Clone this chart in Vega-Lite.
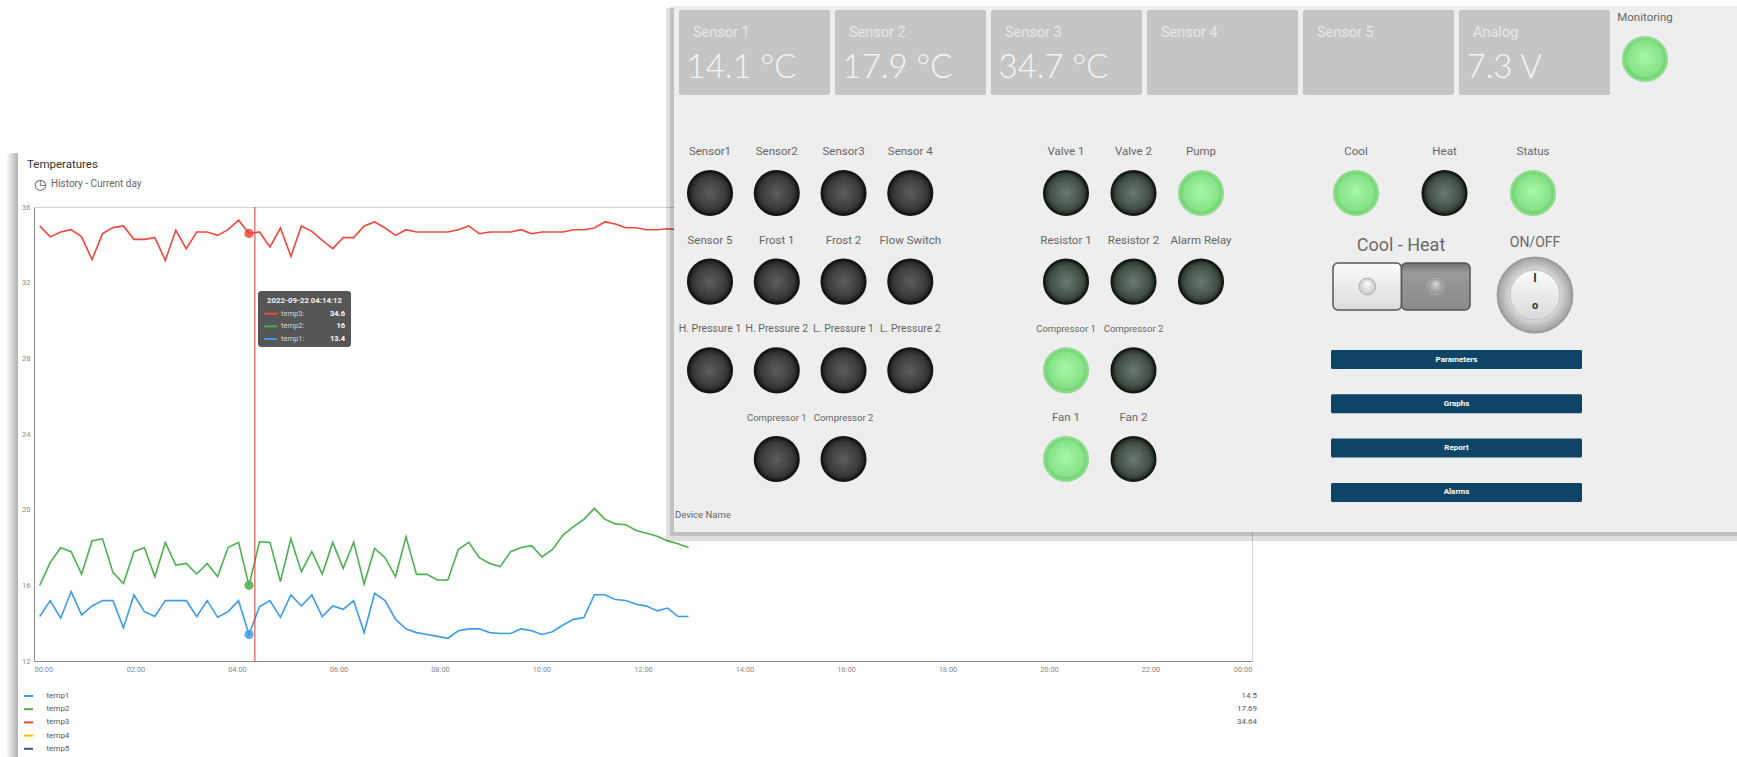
{
"$schema":"https://vega.github.io/schema/vega-lite/v6.json",
"width":1218,"height":454,
"padding":{"left":6,"top":6,"right":0,"bottom":0},
"background":"#ffffff",
"config":{"view":{"stroke":"#d2d2d2"},"font":"Roboto"},
"datasets":{
"readings":[
{"t":"2022-09-22T00:06:47","temp1":14.35,"temp2":16.0,"temp3":35.0},
{"t":"2022-09-22T00:19:09","temp1":15.19,"temp2":17.2,"temp3":34.42},
{"t":"2022-09-22T00:31:31","temp1":14.26,"temp2":17.99,"temp3":34.68},
{"t":"2022-09-22T00:43:54","temp1":15.67,"temp2":17.78,"temp3":34.8},
{"t":"2022-09-22T00:56:16","temp1":14.44,"temp2":16.6,"temp3":34.42},
{"t":"2022-09-22T01:08:38","temp1":14.91,"temp2":18.36,"temp3":33.22},
{"t":"2022-09-22T01:21:01","temp1":15.19,"temp2":18.46,"temp3":34.59},
{"t":"2022-09-22T01:33:23","temp1":15.19,"temp2":16.67,"temp3":34.91},
{"t":"2022-09-22T01:45:45","temp1":13.75,"temp2":16.1,"temp3":35.0},
{"t":"2022-09-22T01:58:08","temp1":15.49,"temp2":17.78,"temp3":34.29},
{"t":"2022-09-22T02:10:30","temp1":14.61,"temp2":18.0,"temp3":34.29},
{"t":"2022-09-22T02:22:52","temp1":14.35,"temp2":16.46,"temp3":34.38},
{"t":"2022-09-22T02:35:15","temp1":15.19,"temp2":18.27,"temp3":33.18},
{"t":"2022-09-22T02:47:37","temp1":15.19,"temp2":17.07,"temp3":34.77},
{"t":"2022-09-22T02:59:59","temp1":15.19,"temp2":17.16,"temp3":33.8},
{"t":"2022-09-22T03:12:22","temp1":14.35,"temp2":16.6,"temp3":34.68},
{"t":"2022-09-22T03:24:44","temp1":15.19,"temp2":17.16,"temp3":34.68},
{"t":"2022-09-22T03:37:06","temp1":14.31,"temp2":16.46,"temp3":34.5},
{"t":"2022-09-22T03:49:29","temp1":14.61,"temp2":18.0,"temp3":34.8},
{"t":"2022-09-22T04:01:51","temp1":15.19,"temp2":18.27,"temp3":35.3},
{"t":"2022-09-22T04:14:12","temp1":13.4,"temp2":16.0,"temp3":34.6},
{"t":"2022-09-22T04:26:35","temp1":14.87,"temp2":18.3,"temp3":34.68},
{"t":"2022-09-22T04:38:58","temp1":15.19,"temp2":18.27,"temp3":33.89},
{"t":"2022-09-22T04:51:20","temp1":14.31,"temp2":16.2,"temp3":34.89},
{"t":"2022-09-22T05:03:43","temp1":15.49,"temp2":18.46,"temp3":33.39},
{"t":"2022-09-22T05:16:05","temp1":14.91,"temp2":16.72,"temp3":35.0},
{"t":"2022-09-22T05:28:27","temp1":15.49,"temp2":17.78,"temp3":34.71},
{"t":"2022-09-22T05:40:49","temp1":14.35,"temp2":16.6,"temp3":34.24},
{"t":"2022-09-22T05:53:12","temp1":14.91,"temp2":18.27,"temp3":33.8},
{"t":"2022-09-22T06:05:34","temp1":14.73,"temp2":16.9,"temp3":34.38},
{"t":"2022-09-22T06:17:56","temp1":15.19,"temp2":18.27,"temp3":34.38},
{"t":"2022-09-22T06:30:19","temp1":13.5,"temp2":16.07,"temp3":35.0},
{"t":"2022-09-22T06:42:41","temp1":15.58,"temp2":17.95,"temp3":35.21},
{"t":"2022-09-22T06:55:04","temp1":15.19,"temp2":17.46,"temp3":34.89},
{"t":"2022-09-22T07:07:26","temp1":14.2,"temp2":16.46,"temp3":34.5},
{"t":"2022-09-22T07:19:48","temp1":13.7,"temp2":18.57,"temp3":34.8},
{"t":"2022-09-22T07:32:10","temp1":13.5,"temp2":16.58,"temp3":34.68},
{"t":"2022-09-22T07:44:32","temp1":13.4,"temp2":16.58,"temp3":34.68},
{"t":"2022-09-22T07:56:55","temp1":13.3,"temp2":16.28,"temp3":34.68},
{"t":"2022-09-22T08:09:17","temp1":13.2,"temp2":16.28,"temp3":34.68},
{"t":"2022-09-22T08:21:40","temp1":13.6,"temp2":17.9,"temp3":34.8},
{"t":"2022-09-22T08:34:02","temp1":13.7,"temp2":18.27,"temp3":35.0},
{"t":"2022-09-22T08:46:24","temp1":13.7,"temp2":17.46,"temp3":34.59},
{"t":"2022-09-22T08:58:47","temp1":13.5,"temp2":17.16,"temp3":34.68},
{"t":"2022-09-22T09:11:09","temp1":13.45,"temp2":16.99,"temp3":34.68},
{"t":"2022-09-22T09:23:31","temp1":13.45,"temp2":17.78,"temp3":34.68},
{"t":"2022-09-22T09:35:53","temp1":13.7,"temp2":18.0,"temp3":34.8},
{"t":"2022-09-22T09:48:16","temp1":13.6,"temp2":18.1,"temp3":34.59},
{"t":"2022-09-22T10:00:38","temp1":13.4,"temp2":17.5,"temp3":34.68},
{"t":"2022-09-22T10:13:01","temp1":13.55,"temp2":17.9,"temp3":34.68},
{"t":"2022-09-22T10:25:23","temp1":13.9,"temp2":18.66,"temp3":34.68},
{"t":"2022-09-22T10:37:45","temp1":14.2,"temp2":19.1,"temp3":34.8},
{"t":"2022-09-22T10:50:07","temp1":14.3,"temp2":19.49,"temp3":34.8},
{"t":"2022-09-22T11:02:30","temp1":15.5,"temp2":20.07,"temp3":34.89},
{"t":"2022-09-22T11:14:52","temp1":15.5,"temp2":19.5,"temp3":35.21},
{"t":"2022-09-22T11:27:14","temp1":15.25,"temp2":19.25,"temp3":35.1},
{"t":"2022-09-22T11:39:37","temp1":15.2,"temp2":19.2,"temp3":34.9},
{"t":"2022-09-22T11:51:59","temp1":15.0,"temp2":18.9,"temp3":34.9},
{"t":"2022-09-22T12:04:22","temp1":14.9,"temp2":18.75,"temp3":34.8},
{"t":"2022-09-22T12:16:44","temp1":14.65,"temp2":18.6,"temp3":34.8},
{"t":"2022-09-22T12:29:06","temp1":14.8,"temp2":18.35,"temp3":34.85},
{"t":"2022-09-22T12:41:28","temp1":14.35,"temp2":18.2,"temp3":34.8},
{"t":"2022-09-22T12:53:50","temp1":14.35,"temp2":18.0,"temp3":34.75}
],
"crosshair":[{"t":"2022-09-22T04:21:10"}],
"hover":[
{"t":"2022-09-22T04:14:12","series":"temp3","label":"temp3:","value":34.6},
{"t":"2022-09-22T04:14:12","series":"temp2","label":"temp2:","value":16},
{"t":"2022-09-22T04:14:12","series":"temp1","label":"temp1:","value":13.4}
],
"keys":[{"series":"temp1","avg":14.5},{"series":"temp2","avg":17.69},{"series":"temp3","avg":34.64},{"series":"temp4"},{"series":"temp5"}],
"heading":[{"line":"Temperatures"},{"line":"History - Current day"}],
"card":[{"card":"Temperatures"}],
"panel":[{"device":"Device Name"}],
"tiles":[
{"name":"Sensor 1","reading":"14.1 °C"},
{"name":"Sensor 2","reading":"17.9 °C"},
{"name":"Sensor 3","reading":"34.7 °C"},
{"name":"Sensor 4","reading":""},
{"name":"Sensor 5","reading":""},
{"name":"Analog","reading":"7.3 V"}
],
"indicators":[
{"group":"inputs","row":1,"col":1,"name":"Sensor1","state":"off"},
{"group":"inputs","row":1,"col":2,"name":"Sensor2","state":"off"},
{"group":"inputs","row":1,"col":3,"name":"Sensor3","state":"off"},
{"group":"inputs","row":1,"col":4,"name":"Sensor 4","state":"off"},
{"group":"inputs","row":2,"col":1,"name":"Sensor 5","state":"off"},
{"group":"inputs","row":2,"col":2,"name":"Frost 1","state":"off"},
{"group":"inputs","row":2,"col":3,"name":"Frost 2","state":"off"},
{"group":"inputs","row":2,"col":4,"name":"Flow Switch","state":"off"},
{"group":"inputs","row":3,"col":1,"name":"H. Pressure 1","state":"off"},
{"group":"inputs","row":3,"col":2,"name":"H. Pressure 2","state":"off"},
{"group":"inputs","row":3,"col":3,"name":"L. Pressure 1","state":"off"},
{"group":"inputs","row":3,"col":4,"name":"L. Pressure 2","state":"off"},
{"group":"inputs","row":4,"col":2,"name":"Compressor 1","state":"off"},
{"group":"inputs","row":4,"col":3,"name":"Compressor 2","state":"off"},
{"group":"outputs","row":1,"col":1,"name":"Valve 1","state":"off"},
{"group":"outputs","row":1,"col":2,"name":"Valve 2","state":"off"},
{"group":"outputs","row":1,"col":3,"name":"Pump","state":"on"},
{"group":"outputs","row":2,"col":1,"name":"Resistor 1","state":"off"},
{"group":"outputs","row":2,"col":2,"name":"Resistor 2","state":"off"},
{"group":"outputs","row":2,"col":3,"name":"Alarm Relay","state":"off"},
{"group":"outputs","row":3,"col":1,"name":"Compressor 1","state":"on"},
{"group":"outputs","row":3,"col":2,"name":"Compressor 2","state":"off"},
{"group":"outputs","row":4,"col":1,"name":"Fan 1","state":"on"},
{"group":"outputs","row":4,"col":2,"name":"Fan 2","state":"off"},
{"group":"modes","row":1,"col":1,"name":"Cool","state":"on"},
{"group":"modes","row":1,"col":2,"name":"Heat","state":"off"},
{"group":"modes","row":1,"col":3,"name":"Status","state":"on"},
{"group":"monitor","row":1,"col":1,"name":"Monitoring","state":"on"}
],
"toggle":[{"position":"Cool","selected":true},{"position":"Heat","selected":false}],
"switches":[{"control":"Cool - Heat"},{"control":"ON/OFF"}],
"menu":[{"label":"Parameters"},{"label":"Graphs"},{"label":"Report"},{"label":"Alarms"}]
},
"layer":[
{"data":{"name":"card"},"mark":{"type":"rect","fill":{"gradient":"linear","x1":0,"y1":0,"x2":1,"y2":0,"stops":[{"offset":0,"color":"#ffffff"},{"offset":1,"color":"#b0b0b0"}]}},
 "encoding":{"x":{"field":"card","type":"nominal","scale":{"type":"band","range":[-28,-16],"paddingInner":0,"paddingOuter":0},"axis":null},
  "y":{"field":"card","type":"nominal","scale":{"type":"band","range":[-54,550],"paddingInner":0,"paddingOuter":0},"axis":null}}},
{"data":{"name":"heading"},
 "mark":{"type":"text","align":"left","baseline":"middle"},
 "encoding":{"x":{"field":"line","type":"nominal","sort":null,"scale":{"type":"point","domain":["Temperatures","History - Current day"],"range":[-7,17],"padding":0},"axis":null},
  "y":{"field":"line","type":"nominal","sort":null,"scale":{"type":"point","domain":["Temperatures","History - Current day"],"range":[-42,-23],"padding":0},"axis":null},
  "text":{"field":"line"},
  "size":{"condition":{"test":"datum.line==='Temperatures'","value":11.5},"value":10},
  "fill":{"condition":{"test":"datum.line==='Temperatures'","value":"#333333"},"value":"#666666"}}},
{"data":{"name":"heading"},"transform":[{"filter":"datum.line==='History - Current day'"}],
 "mark":{"type":"text","text":"\u25f7","align":"center","baseline":"middle","dx":-11,"dy":0.5,"font":"DejaVu Sans","fontSize":14,"fill":"#555555"},
 "encoding":{"x":{"field":"line","type":"nominal","scale":{"type":"point","domain":["History - Current day"],"range":[17,17],"padding":0},"axis":null},
  "y":{"field":"line","type":"nominal","scale":{"type":"point","domain":["History - Current day"],"range":[-23,-23],"padding":0},"axis":null}}},
{"data":{"name":"readings"},"transform":[{"fold":["temp1","temp2","temp3"],"as":["series","value"]}],
 "layer":[
  {"mark":{"type":"line","strokeWidth":1.6},
   "encoding":{
    "x":{"field":"t","type":"temporal","scale":{"domain":[{"year":2022,"month":9,"date":22,"hours":0},{"year":2022,"month":9,"date":23,"hours":0}]},
      "axis":{"format":"%H:%M","values":[{"year":2022,"month":9,"date":22,"hours":0},{"year":2022,"month":9,"date":22,"hours":2},{"year":2022,"month":9,"date":22,"hours":4},{"year":2022,"month":9,"date":22,"hours":6},{"year":2022,"month":9,"date":22,"hours":8},{"year":2022,"month":9,"date":22,"hours":10},{"year":2022,"month":9,"date":22,"hours":12},{"year":2022,"month":9,"date":22,"hours":14},{"year":2022,"month":9,"date":22,"hours":16},{"year":2022,"month":9,"date":22,"hours":18},{"year":2022,"month":9,"date":22,"hours":20},{"year":2022,"month":9,"date":22,"hours":22},{"year":2022,"month":9,"date":23,"hours":0}],
       "labelFontSize":7.5,"labelColor":"#888888","ticks":false,"labelPadding":4,"gridColor":"#e9e9e9","domainColor":"#8a8a8a","labelOverlap":false,"title":null}},
    "y":{"field":"value","type":"quantitative","scale":{"domain":[12,36],"nice":false,"zero":false},
      "axis":{"values":[12,14,16,18,20,22,24,26,28,30,32,34,36],"labelFontSize":7.5,"labelColor":"#888888","ticks":false,"labelPadding":4,"gridColor":"#e9e9e9","domainColor":"#8a8a8a","labelOverlap":false,"title":null}},
    "color":{"field":"series","type":"nominal","scale":{"domain":["temp1","temp2","temp3","temp4","temp5"],"range":["#3d9be9","#4caf50","#f0483e","#ffc107","#36558f"]},"legend":null}}},
  {"data":{"name":"crosshair"},"mark":{"type":"rule","color":"#d93a32","strokeWidth":1},"encoding":{"x":{"field":"t","type":"temporal"}}},
  {"data":{"name":"hover"},"mark":{"type":"point","filled":true,"size":85,"opacity":0.85},
   "encoding":{"x":{"field":"t","type":"temporal"},"y":{"field":"value","type":"quantitative"},
    "color":{"field":"series","type":"nominal","scale":{"domain":["temp1","temp2","temp3","temp4","temp5"],"range":["#3d9be9","#4caf50","#f0483e","#ffc107","#36558f"]},"legend":null}}}
 ]},
{"data":{"name":"hover"},"transform":[{"filter":"datum.series==='temp3'"}],
 "mark":{"type":"rect","fill":"#4b4b4b","opacity":0.94,"cornerRadius":3,"xOffset":9,"x2Offset":102},
 "encoding":{"x":{"field":"t","type":"temporal","scale":{"domain":[{"year":2022,"month":9,"date":22,"hours":0},{"year":2022,"month":9,"date":23,"hours":0}]},"axis":null},
  "x2":{"field":"t"},
  "y":{"datum":"box","type":"nominal","scale":{"type":"band","domain":["box"],"range":[84,140],"paddingInner":0,"paddingOuter":0},"axis":null}}},
{"data":{"name":"hover"},"transform":[{"filter":"datum.series==='temp3'"}],
 "mark":{"type":"text","dx":55.5,"align":"center","baseline":"middle","fontSize":7.8,"fontWeight":"bold","fill":"#f2f2f2"},
 "encoding":{"x":{"field":"t","type":"temporal","scale":{"domain":[{"year":2022,"month":9,"date":22,"hours":0},{"year":2022,"month":9,"date":23,"hours":0}]},"axis":null},
  "y":{"datum":"header","type":"nominal","scale":{"type":"point","domain":["header","temp3","temp2","temp1"],"range":[94,132],"padding":0},"axis":null},
  "text":{"field":"t","type":"temporal","format":"%Y-%m-%d %H:%M:%S"}}},
{"data":{"name":"hover"},
 "mark":{"type":"rule","strokeWidth":2,"xOffset":15.4,"x2Offset":27.9},
 "encoding":{"x":{"field":"t","type":"temporal","scale":{"domain":[{"year":2022,"month":9,"date":22,"hours":0},{"year":2022,"month":9,"date":23,"hours":0}]},"axis":null},
  "x2":{"field":"t"},
  "y":{"field":"series","type":"nominal","scale":{"type":"point","domain":["header","temp3","temp2","temp1"],"range":[94,132],"padding":0},"axis":null},
  "color":{"field":"series","type":"nominal","scale":{"domain":["temp1","temp2","temp3","temp4","temp5"],"range":["#3d9be9","#4caf50","#f0483e","#ffc107","#36558f"]},"legend":null}}},
{"data":{"name":"hover"},
 "mark":{"type":"text","dx":32,"align":"left","baseline":"middle","fontSize":7.5,"fill":"#d5d5d5"},
 "encoding":{"x":{"field":"t","type":"temporal","scale":{"domain":[{"year":2022,"month":9,"date":22,"hours":0},{"year":2022,"month":9,"date":23,"hours":0}]},"axis":null},
  "y":{"field":"series","type":"nominal","scale":{"type":"point","domain":["header","temp3","temp2","temp1"],"range":[94,132],"padding":0},"axis":null},
  "text":{"field":"label"}}},
{"data":{"name":"hover"},
 "mark":{"type":"text","dx":96,"align":"right","baseline":"middle","fontSize":7.5,"fontWeight":"bold","fill":"#ffffff"},
 "encoding":{"x":{"field":"t","type":"temporal","scale":{"domain":[{"year":2022,"month":9,"date":22,"hours":0},{"year":2022,"month":9,"date":23,"hours":0}]},"axis":null},
  "y":{"field":"series","type":"nominal","scale":{"type":"point","domain":["header","temp3","temp2","temp1"],"range":[94,132],"padding":0},"axis":null},
  "text":{"field":"value","type":"quantitative"}}},
{"data":{"name":"keys"},
 "mark":{"type":"rule","strokeWidth":2,"xOffset":-10,"x2Offset":-1},
 "encoding":{"x":{"datum":{"year":2022,"month":9,"date":22,"hours":0},"type":"temporal","scale":{"domain":[{"year":2022,"month":9,"date":22,"hours":0},{"year":2022,"month":9,"date":23,"hours":0}]},"axis":null},
  "x2":{"datum":{"year":2022,"month":9,"date":22,"hours":0}},
  "y":{"field":"series","type":"nominal","scale":{"type":"point","domain":["temp1","temp2","temp3","temp4","temp5"],"range":[489,541.8],"padding":0},"axis":null},
  "color":{"field":"series","type":"nominal","scale":{"domain":["temp1","temp2","temp3","temp4","temp5"],"range":["#3d9be9","#4caf50","#f0483e","#ffc107","#36558f"]},"legend":null}}},
{"data":{"name":"keys"},
 "mark":{"type":"text","dx":12.5,"align":"left","baseline":"middle","fontSize":8,"fill":"#555555"},
 "encoding":{"x":{"datum":{"year":2022,"month":9,"date":22,"hours":0},"type":"temporal","scale":{"domain":[{"year":2022,"month":9,"date":22,"hours":0},{"year":2022,"month":9,"date":23,"hours":0}]},"axis":null},
  "y":{"field":"series","type":"nominal","scale":{"type":"point","domain":["temp1","temp2","temp3","temp4","temp5"],"range":[489,541.8],"padding":0},"axis":null},
  "text":{"field":"series"}}},
{"data":{"name":"keys"},"transform":[{"filter":"isValid(datum.avg)"}],
 "mark":{"type":"text","dx":5,"align":"right","baseline":"middle","fontSize":8,"fill":"#555555"},
 "encoding":{"x":{"datum":{"year":2022,"month":9,"date":23,"hours":0},"type":"temporal","scale":{"domain":[{"year":2022,"month":9,"date":22,"hours":0},{"year":2022,"month":9,"date":23,"hours":0}]},"axis":null},
  "y":{"field":"series","type":"nominal","scale":{"type":"point","domain":["temp1","temp2","temp3","temp4","temp5"],"range":[489,541.8],"padding":0},"axis":null},
  "text":{"field":"avg","type":"quantitative"}}},
{"data":{"name":"panel"},"mark":{"type":"rect","fill":"#000000","opacity":0.12},
 "encoding":{"x":{"field":"device","type":"nominal","scale":{"type":"band","range":[632,1703],"paddingInner":0,"paddingOuter":0},"axis":null},
  "y":{"field":"device","type":"nominal","scale":{"type":"band","range":[-199,334],"paddingInner":0,"paddingOuter":0},"axis":null}}},
{"data":{"name":"panel"},"mark":{"type":"rect","fill":"#000000","opacity":0.14},
 "encoding":{"x":{"field":"device","type":"nominal","scale":{"type":"band","range":[636,1703],"paddingInner":0,"paddingOuter":0},"axis":null},
  "y":{"field":"device","type":"nominal","scale":{"type":"band","range":[-200,329],"paddingInner":0,"paddingOuter":0},"axis":null}}},
{"data":{"name":"panel"},"mark":{"type":"rect","fill":"#eeeeee"},
 "encoding":{"x":{"field":"device","type":"nominal","scale":{"type":"band","range":[640,1703],"paddingInner":0,"paddingOuter":0},"axis":null},
  "y":{"field":"device","type":"nominal","scale":{"type":"band","range":[-201,325],"paddingInner":0,"paddingOuter":0},"axis":null}}},
{"data":{"name":"tiles"},
 "encoding":{"x":{"field":"name","type":"nominal","sort":null,"scale":{"type":"band","domain":["Sensor 1","Sensor 2","Sensor 3","Sensor 4","Sensor 5","Analog"],"range":[645,1576],"paddingInner":0.032,"paddingOuter":0},"axis":null},
  "y":{"datum":"tile","type":"nominal","scale":{"type":"band","domain":["tile"],"range":[-197,-112],"paddingInner":0,"paddingOuter":0},"axis":null}},
 "layer":[
  {"mark":{"type":"rect","fill":"#c6c5c6","cornerRadius":2},"encoding":{}},
  {"mark":{"type":"text","align":"left","baseline":"middle","dx":-61.5,"dy":-19.5,"fontSize":14.5,"fill":"#e6e6e6"},"encoding":{"text":{"field":"name"}}},
  {"mark":{"type":"text","align":"left","baseline":"middle","dx":-68,"dy":15.5,"fontSize":33,"font":"Lato","fontWeight":300,"fill":"#f5f5f5"},"encoding":{"text":{"field":"reading"}}}
 ]},
{"data":{"name":"indicators"},"transform":[{"filter":"datum.group==='inputs'"}],
 "encoding":{"x":{"field":"col","type":"ordinal","scale":{"type":"point","domain":[1,2,3,4],"range":[676,876.3],"padding":0},"axis":null},
  "y":{"field":"row","type":"ordinal","scale":{"type":"point","domain":[1,2,3,4],"range":[-14,252],"padding":0},"axis":null}},
 "layer":[
  {"mark":{"type":"circle","size":1900,"opacity":1,"strokeWidth":2.5,"stroke":"#161616","fill":{"gradient":"radial","x1":0.5,"y1":0.5,"r1":0,"x2":0.5,"y2":0.5,"r2":0.5,"stops":[{"offset":0,"color":"#5e5e5e"},{"offset":0.75,"color":"#393939"},{"offset":1,"color":"#1c1c1c"}]}},"encoding":{}},
  {"mark":{"type":"text","dy":-41,"align":"center","baseline":"middle","fill":"#666666"},
   "encoding":{"text":{"field":"name"},"size":{"condition":[{"test":"indexof(datum.name,'Compressor')>=0","value":9.5},{"test":"indexof(datum.name,'Pressure')>=0","value":10.5}],"value":11.5}}}
 ]},
{"data":{"name":"indicators"},"transform":[{"filter":"datum.group==='outputs'"}],
 "encoding":{"x":{"field":"col","type":"ordinal","scale":{"type":"point","domain":[1,2,3],"range":[1032,1167],"padding":0},"axis":null},
  "y":{"field":"row","type":"ordinal","scale":{"type":"point","domain":[1,2,3,4],"range":[-14,252],"padding":0},"axis":null}},
 "layer":[
  {"mark":{"type":"circle","size":1900,"opacity":1,"strokeWidth":2.5},
   "encoding":{"fill":{"condition":{"test":"datum.state==='on'","value":{"gradient":"radial","x1":0.5,"y1":0.45,"r1":0,"x2":0.5,"y2":0.5,"r2":0.5,"stops":[{"offset":0,"color":"#a8f7a8"},{"offset":0.8,"color":"#86e386"},{"offset":1,"color":"#68c868"}]}},
     "value":{"gradient":"radial","x1":0.5,"y1":0.5,"r1":0,"x2":0.5,"y2":0.5,"r2":0.5,"stops":[{"offset":0,"color":"#6b7b6e"},{"offset":0.75,"color":"#414e44"},{"offset":1,"color":"#1f2822"}]}},
    "stroke":{"condition":{"test":"datum.state==='on'","value":"#8bdc8b"},"value":"#141a15"}}},
  {"mark":{"type":"text","dy":-41,"align":"center","baseline":"middle","fill":"#666666"},
   "encoding":{"text":{"field":"name"},"size":{"condition":{"test":"indexof(datum.name,'Compressor')>=0","value":9.5},"value":11.5}}}
 ]},
{"data":{"name":"indicators"},"transform":[{"filter":"datum.group==='modes'"}],
 "encoding":{"x":{"field":"col","type":"ordinal","scale":{"type":"point","domain":[1,2,3],"range":[1322,1499],"padding":0},"axis":null},
  "y":{"field":"row","type":"ordinal","scale":{"type":"point","domain":[1,2,3,4],"range":[-14,252],"padding":0},"axis":null}},
 "layer":[
  {"mark":{"type":"circle","size":1900,"opacity":1,"strokeWidth":2.5},
   "encoding":{"fill":{"condition":{"test":"datum.state==='on'","value":{"gradient":"radial","x1":0.5,"y1":0.45,"r1":0,"x2":0.5,"y2":0.5,"r2":0.5,"stops":[{"offset":0,"color":"#a8f7a8"},{"offset":0.8,"color":"#86e386"},{"offset":1,"color":"#68c868"}]}},
     "value":{"gradient":"radial","x1":0.5,"y1":0.5,"r1":0,"x2":0.5,"y2":0.5,"r2":0.5,"stops":[{"offset":0,"color":"#6b7b6e"},{"offset":0.75,"color":"#414e44"},{"offset":1,"color":"#1f2822"}]}},
    "stroke":{"condition":{"test":"datum.state==='on'","value":"#8bdc8b"},"value":"#141a15"}}},
  {"mark":{"type":"text","dy":-41,"align":"center","baseline":"middle","fill":"#666666","fontSize":11.5},
   "encoding":{"text":{"field":"name"}}}
 ]},
{"data":{"name":"indicators"},"transform":[{"filter":"datum.group==='monitor'"}],
 "encoding":{"x":{"field":"col","type":"ordinal","scale":{"type":"point","domain":[1],"range":[1611,1611],"padding":0},"axis":null},
  "y":{"field":"row","type":"ordinal","scale":{"type":"point","domain":[1],"range":[-148,-148],"padding":0},"axis":null}},
 "layer":[
  {"mark":{"type":"circle","size":1900,"opacity":1,"strokeWidth":2.5,"stroke":"#8bdc8b","fill":{"gradient":"radial","x1":0.5,"y1":0.45,"r1":0,"x2":0.5,"y2":0.5,"r2":0.5,"stops":[{"offset":0,"color":"#a8f7a8"},{"offset":0.8,"color":"#86e386"},{"offset":1,"color":"#68c868"}]}},"encoding":{}},
  {"mark":{"type":"text","dy":-41,"align":"center","baseline":"middle","fill":"#666666","fontSize":11.5},
   "encoding":{"text":{"field":"name"}}}
 ]},
{"data":{"name":"toggle"},
 "encoding":{"x":{"field":"position","type":"nominal","sort":null,"scale":{"type":"band","domain":["Cool","Heat"],"range":[1299,1436],"paddingInner":0,"paddingOuter":0},"axis":null},
  "y":{"datum":"switch","type":"nominal","scale":{"type":"band","domain":["switch"],"range":[56,103],"paddingInner":0,"paddingOuter":0},"axis":null}},
 "layer":[
  {"mark":{"type":"rect","stroke":"#555555","strokeWidth":1.5,"cornerRadius":5},
   "encoding":{"fill":{"condition":{"test":"datum.selected","value":{"gradient":"linear","x1":0,"y1":0,"x2":0,"y2":1,"stops":[{"offset":0,"color":"#fbfbfb"},{"offset":1,"color":"#dcdcdc"}]}},
     "value":{"gradient":"linear","x1":0,"y1":0,"x2":0,"y2":1,"stops":[{"offset":0,"color":"#6f6f6f"},{"offset":0.2,"color":"#9a9a9a"},{"offset":1,"color":"#8a8a8a"}]}}}},
  {"mark":{"type":"circle","size":280,"opacity":1,"stroke":"#b0b0b0","strokeWidth":1},
   "encoding":{"fill":{"condition":{"test":"datum.selected","value":{"gradient":"radial","x1":0.5,"y1":0.3,"r1":0,"x2":0.5,"y2":0.5,"r2":0.5,"stops":[{"offset":0,"color":"#ffffff"},{"offset":1,"color":"#c8c8c8"}]}},
     "value":{"gradient":"radial","x1":0.5,"y1":0.3,"r1":0,"x2":0.5,"y2":0.5,"r2":0.5,"stops":[{"offset":0,"color":"#d8d8d8"},{"offset":1,"color":"#8f8f8f"}]}}}}
 ]},
{"data":{"name":"switches"},
 "mark":{"type":"text","align":"center","baseline":"middle","fill":"#6a6a6a"},
 "encoding":{"x":{"field":"control","type":"nominal","sort":null,"scale":{"type":"point","domain":["Cool - Heat","ON/OFF"],"range":[1367,1501],"padding":0},"axis":null},
  "y":{"field":"control","type":"nominal","sort":null,"scale":{"type":"point","domain":["Cool - Heat","ON/OFF"],"range":[39,36],"padding":0},"axis":null},
  "text":{"field":"control"},
  "size":{"condition":{"test":"datum.control==='ON/OFF'","value":14},"value":18}}},
{"data":{"name":"switches"},"transform":[{"filter":"datum.control==='ON/OFF'"}],
 "encoding":{"x":{"field":"control","type":"nominal","scale":{"type":"point","domain":["ON/OFF"],"range":[1501,1501],"padding":0},"axis":null},
  "y":{"field":"control","type":"nominal","scale":{"type":"point","domain":["ON/OFF"],"range":[88,88],"padding":0},"axis":null}},
 "layer":[
  {"mark":{"type":"circle","size":5600,"opacity":1,"stroke":"#9c9c9c","strokeWidth":2,"fill":{"gradient":"radial","x1":0.5,"y1":0.5,"r1":0,"x2":0.5,"y2":0.5,"r2":0.5,"stops":[{"offset":0,"color":"#f2f2f2"},{"offset":0.7,"color":"#d2d2d2"},{"offset":1,"color":"#a3a3a3"}]}},"encoding":{}},
  {"mark":{"type":"circle","size":2460,"opacity":1,"stroke":"#c4c4c4","strokeWidth":1,"fill":{"gradient":"linear","x1":0,"y1":0,"x2":0,"y2":1,"stops":[{"offset":0,"color":"#fbfbfb"},{"offset":1,"color":"#dadada"}]}},"encoding":{}},
  {"mark":{"type":"text","text":"I","dy":-17,"align":"center","baseline":"middle","fontSize":12,"fontWeight":"bold","fill":"#333333"},"encoding":{}},
  {"mark":{"type":"text","text":"o","dy":11,"align":"center","baseline":"middle","fontSize":11,"fontWeight":"bold","fill":"#333333"},"encoding":{}}
 ]},
{"data":{"name":"menu"},
 "encoding":{"x":{"datum":"menu","type":"nominal","scale":{"type":"band","domain":["menu"],"range":[1297,1548],"paddingInner":0,"paddingOuter":0},"axis":null},
  "y":{"field":"label","type":"nominal","sort":null,"scale":{"type":"band","domain":["Parameters","Graphs","Report","Alarms"],"range":[143,294.9],"paddingInner":0.571,"paddingOuter":0},"axis":null}},
 "layer":[
  {"mark":{"type":"rect","fill":"#0e4466","cornerRadius":1.5},"encoding":{}},
  {"mark":{"type":"text","align":"center","baseline":"middle","fill":"#ffffff","fontSize":8,"fontWeight":"bold"},"encoding":{"text":{"field":"label"}}}
 ]},
{"data":{"name":"panel"},
 "mark":{"type":"text","align":"left","baseline":"middle","fontSize":9.5,"fill":"#666666","dx":1,"dy":-17},
 "encoding":{"x":{"field":"device","type":"nominal","bandPosition":0,"scale":{"type":"band","range":[640,1703],"paddingInner":0,"paddingOuter":0},"axis":null},
  "y":{"field":"device","type":"nominal","bandPosition":1,"scale":{"type":"band","range":[-201,325],"paddingInner":0,"paddingOuter":0},"axis":null},
  "text":{"field":"device"}}}
],
"resolve":{"scale":{"x":"independent","y":"independent"}}
}
